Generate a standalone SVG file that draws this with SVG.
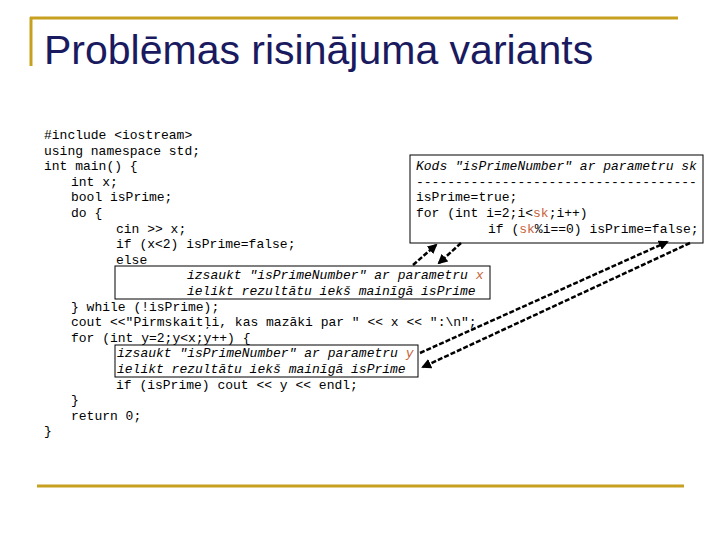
<svg xmlns="http://www.w3.org/2000/svg" width="720" height="540" viewBox="0 0 720 540">
<defs>
<style>
.c{font-family:"Liberation Mono",monospace;font-size:13px;fill:#000}
.i{font-style:italic}
.o{fill:#c8643c}
.b{fill:#fff;stroke:#000;stroke-width:1}
.a{stroke:#000;stroke-width:2.5;stroke-dasharray:5,2;fill:none;marker-end:url(#m)}
</style>
<marker id="m" viewBox="0 0 10 10" refX="8" refY="5" markerWidth="4" markerHeight="4" orient="auto"><path d="M0,0L10,5L0,10z" fill="#000"/></marker>
</defs>
<g id="frame" stroke="#c8a020" stroke-width="3">
<line x1="30" y1="18" x2="678" y2="18"/>
<line x1="31" y1="17" x2="31" y2="66"/>
<line x1="37" y1="486" x2="684" y2="486"/>
</g>
<text x="44" y="64" font-family="Liberation Sans,sans-serif" font-size="41" fill="#1a1a60">Problēmas risinājuma variants</text>
<g id="code">
<text class="c" x="44" y="139">#include &lt;iostream&gt;</text>
<text class="c" x="44" y="155">using namespace std;</text>
<text class="c" x="44" y="170">int main() {</text>
<text class="c" x="71" y="186">int x;</text>
<text class="c" x="71" y="201">bool isPrime;</text>
<text class="c" x="71" y="217">do {</text>
<text class="c" x="116" y="233">cin &gt;&gt; x;</text>
<text class="c" x="116" y="248">if (x&lt;2) isPrime=false;</text>
<text class="c" x="116" y="264">else</text>
<text class="c" x="71" y="311">} while (!isPrime);</text>
<text class="c" x="71" y="326">cout &lt;&lt;"Pirmskaitļi, kas mazāki par " &lt;&lt; x &lt;&lt; ":\n";</text>
<text class="c" x="71" y="342">for (int y=2;y&lt;x;y++) {</text>
<text class="c" x="116" y="389">if (isPrime) cout &lt;&lt; y &lt;&lt; endl;</text>
<text class="c" x="71" y="404">}</text>
<text class="c" x="71" y="420">return 0;</text>
<text class="c" x="44" y="435">}</text>
</g>
<g id="func">
<rect class="b" x="410" y="155" width="293" height="88"/>
<text class="c i" x="416" y="170">Kods "isPrimeNumber" ar parametru sk</text>
<text class="c" x="416" y="186">------------------------------------</text>
<text class="c" x="416" y="201">isPrime=true;</text>
<text class="c" x="416" y="217">for (int i=2;i&lt;<tspan class="o">sk</tspan>;i++)</text>
<text class="c" x="488" y="233">if (<tspan class="o">sk</tspan>%i==0) isPrime=false;</text>
</g>
<g id="call1">
<rect class="b" x="115" y="266" width="375" height="33"/>
<text class="c i" x="187" y="279">izsaukt "isPrimeNumber" ar parametru <tspan class="o">x</tspan></text>
<text class="c i" x="187" y="295">ielikt rezultātu iekš mainīgā isPrime</text>
</g>
<g id="call2">
<rect class="b" x="115" y="345" width="303" height="32"/>
<text class="c i" x="117" y="357">izsaukt "isPrimeNumber" ar parametru <tspan class="o">y</tspan></text>
<text class="c i" x="117" y="373">ielikt rezultātu iekš mainīgā isPrime</text>
</g>
<g id="connectors">
<line class="a" x1="413" y1="265" x2="436" y2="245"/>
<line class="a" x1="461" y1="243" x2="439" y2="263"/>
<line class="a" x1="420" y1="353" x2="667" y2="242"/>
<line class="a" x1="690" y1="243" x2="423" y2="367"/>
</g>
</svg>
